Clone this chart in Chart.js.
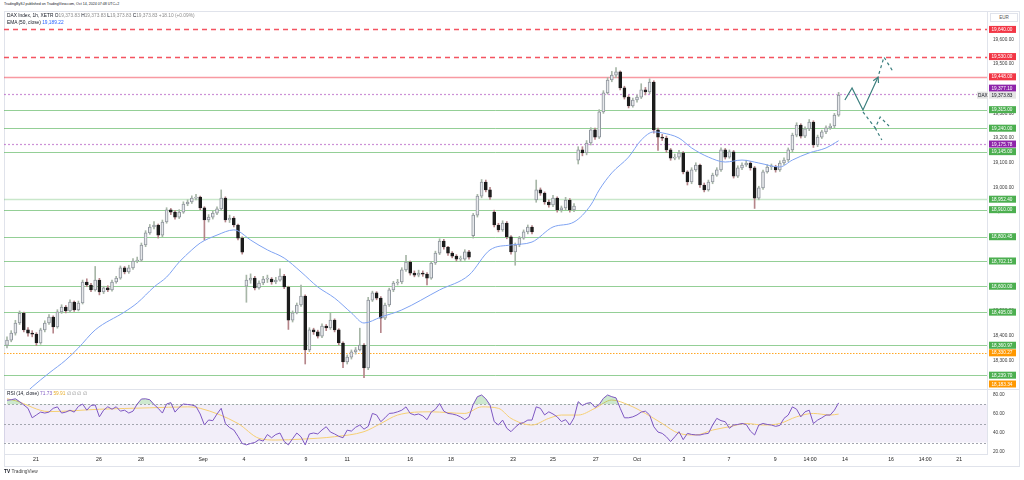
<!DOCTYPE html>
<html>
<head>
<meta charset="utf-8">
<title>DAX Index, 1h</title>
<script src="https://cdn.jsdelivr.net/npm/chart.js@4.4.1/dist/chart.umd.min.js"></script>
<style>
  body { margin: 0; background: #fff; font-family: "Liberation Sans", Arial, sans-serif; }
  #wrap { position: relative; width: 1024px; height: 480px; overflow: hidden; }
  .txt { position: absolute; white-space: nowrap; line-height: 1; color: #131722; }
  .line { position: absolute; background: #e0e3eb; }
  canvas { position: absolute; left: 0; }
  .g { color: #8d8d8d; }
</style>
</head>
<body>
<div id="wrap">
  <div class="txt" style="left:4px;top:3px;font-size:3.6px">TradingBySJ published on TradingView.com, Oct 14, 2024 07:48 UTC+2</div>

  <div class="line" style="left:4px;top:11px;width:1016px;height:1px"></div>
  <div class="line" style="left:4px;top:11px;width:1px;height:455px"></div>
  <div class="line" style="left:1019px;top:11px;width:1px;height:455px"></div>
  <div class="line" style="left:4px;top:389px;width:1016px;height:1px"></div>
  <div class="line" style="left:4px;top:466px;width:1016px;height:1px"></div>

  <canvas id="price" width="1024" height="378" style="top:11px"></canvas>
  <canvas id="rsi" width="1024" height="76" style="top:390px"></canvas>

  <div class="txt" style="left:7px;top:13.6px;font-size:4.8px">DAX Index, 1h, XETR <span>O</span><span class="g">19,373.83</span> <span>H</span><span class="g">19,373.83</span> <span>L</span><span class="g">19,373.83</span> <span>C</span><span class="g">19,373.83</span> <span class="g">+18.10 (+0.09%)</span></div>
  <div class="txt" style="left:7px;top:20.6px;font-size:4.8px">EMA (50, close) <span style="color:#2962ff">19,189.22</span></div>
  <div class="txt" style="left:990px;top:13px;width:28px;height:9px;border:1px solid #e0e3eb;box-sizing:border-box;background:#fff;font-size:4.6px;color:#555;text-align:center;padding-top:1.8px">EUR</div>

  <div class="txt" style="left:7px;top:391.6px;font-size:4.8px">RSI (14, close) <span style="color:#7e57c2">71.73</span> <span style="color:#e8ad2a">59.91</span> <span class="g">∅ ∅ ∅ ∅</span></div>

  <div class="txt" style="left:4px;top:469.6px;font-size:4.8px;color:#444"><b style="color:#131722">TV</b> TradingView</div>
</div>

<script>
// hourly candles, Aug 19 - Oct 14 2024
const opens = [
  18360, 18382, 18410, 18451, 18490, 18423, 18410, 18406, 18370, 18423,
  18451, 18475, 18435, 18496, 18516, 18500, 18536, 18504, 18532, 18617,
  18605, 18585, 18625, 18577, 18593, 18585, 18617, 18633, 18674, 18658,
  18674, 18702, 18706, 18767, 18816, 18840, 18848, 18807, 18860, 18909,
  18900, 18880, 18900, 18933, 18941, 18957, 18961, 18917, 18868, 18880,
  18896, 18913, 18957, 18868, 18876, 18848, 18795, 18600, 18625, 18633,
  18593, 18613, 18629, 18629, 18617, 18625, 18641, 18597, 18463, 18492,
  18524, 18560, 18342, 18423, 18415, 18398, 18439, 18431, 18463, 18423,
  18370, 18293, 18313, 18334, 18342, 18362, 18269, 18544, 18573, 18552,
  18471, 18524, 18585, 18613, 18617, 18666, 18698, 18653, 18645, 18653,
  18649, 18633, 18694, 18734, 18783, 18759, 18734, 18722, 18710, 18710,
  18739, 18805, 18888, 18965, 19022, 18990, 18900, 18848, 18828, 18856,
  18800, 18739, 18767, 18795, 18820, 18840, 18950, 18990, 18977, 18941,
  18929, 18957, 18909, 18917, 18949, 18909, 19110, 19152, 19140, 19180,
  19233, 19204, 19306, 19383, 19435, 19455, 19468, 19403, 19366, 19330,
  19354, 19366, 19395, 19387, 19427, 19233, 19204, 19200, 19152, 19119,
  19123, 19140, 19063, 19022, 19071, 19091, 19010, 18990, 19022, 19050,
  19071, 19152, 19123, 19144, 19046, 19079, 19091, 19099, 19079, 18957,
  18998, 19063, 19083, 19083, 19071, 19099, 19111, 19152, 19212, 19253,
  19208, 19237, 19265, 19172, 19204, 19225, 19241, 19249, 19293
];
const highs = [
  18395, 18420, 18462, 18500, 18495, 18432, 18420, 18412, 18430, 18460,
  18485, 18480, 18505, 18525, 18522, 18545, 18540, 18540, 18625, 18630,
  18612, 18680, 18632, 18600, 18602, 18625, 18640, 18682, 18680, 18685,
  18712, 18718, 18775, 18825, 18850, 18862, 18852, 18868, 18918, 18915,
  18906, 18910, 18942, 18950, 18966, 18972, 18965, 18922, 18890, 18905,
  18922, 18990, 18962, 18888, 18882, 18852, 18800, 18645, 18650, 18640,
  18622, 18640, 18645, 18635, 18636, 18670, 18648, 18600, 18500, 18532,
  18605, 18565, 18432, 18430, 18422, 18448, 18445, 18490, 18468, 18428,
  18375, 18322, 18342, 18352, 18430, 18368, 18555, 18580, 18578, 18558,
  18532, 18592, 18620, 18628, 18675, 18725, 18702, 18662, 18665, 18662,
  18655, 18700, 18742, 18792, 18790, 18762, 18740, 18728, 18722, 18748,
  18745, 18895, 18972, 19032, 19030, 19000, 18908, 18855, 18865, 18862,
  18805, 18775, 18802, 18828, 18848, 18846, 19030, 18998, 18982, 18950,
  18968, 18962, 18925, 18960, 18955, 18935, 19165, 19165, 19190, 19242,
  19240, 19315, 19392, 19445, 19470, 19485, 19472, 19410, 19372, 19362,
  19375, 19420, 19405, 19440, 19432, 19240, 19215, 19208, 19158, 19135,
  19150, 19145, 19068, 19080, 19100, 19095, 19018, 19030, 19058, 19080,
  19160, 19158, 19152, 19150, 19088, 19100, 19110, 19105, 19085, 19005,
  19070, 19092, 19095, 19090, 19108, 19120, 19160, 19220, 19262, 19258,
  19245, 19275, 19270, 19212, 19232, 19250, 19258, 19300, 19385
];
const lows = [
  18350, 18375, 18402, 18445, 18415, 18398, 18395, 18360, 18365, 18415,
  18445, 18410, 18430, 18490, 18492, 18495, 18498, 18500, 18528, 18598,
  18578, 18580, 18565, 18570, 18578, 18580, 18612, 18628, 18650, 18652,
  18668, 18695, 18700, 18760, 18810, 18832, 18795, 18800, 18855, 18890,
  18872, 18874, 18895, 18926, 18935, 18950, 18910, 18787, 18860, 18872,
  18890, 18908, 18860, 18858, 18840, 18788, 18730, 18535, 18612, 18585,
  18588, 18606, 18615, 18608, 18610, 18620, 18590, 18425, 18455, 18488,
  18518, 18285, 18335, 18405, 18390, 18392, 18420, 18425, 18415, 18362,
  18270, 18285, 18305, 18325, 18338, 18230, 18262, 18538, 18545, 18412,
  18465, 18518, 18578, 18605, 18610, 18660, 18645, 18638, 18638, 18640,
  18605, 18628, 18688, 18728, 18750, 18725, 18715, 18702, 18700, 18705,
  18710, 18795, 18880, 18958, 18982, 18952, 18840, 18820, 18822, 18792,
  18730, 18685, 18760, 18790, 18812, 18812, 18940, 18968, 18932, 18920,
  18922, 18900, 18900, 18910, 18900, 18902, 19095, 19128, 19132, 19172,
  19195, 19198, 19300, 19378, 19428, 19445, 19395, 19358, 19322, 19325,
  19345, 19360, 19375, 19380, 19220, 19150, 19190, 19142, 19110, 19112,
  19115, 19055, 19010, 19015, 19065, 19000, 18982, 18985, 19015, 19045,
  19065, 19115, 19118, 19038, 19040, 19072, 19085, 19070, 18915, 18950,
  18992, 19058, 19072, 19062, 19065, 19092, 19105, 19145, 19205, 19200,
  19202, 19230, 19162, 19165, 19198, 19218, 19235, 19242, 19288
];
const closes = [
  18382, 18410, 18451, 18490, 18423, 18410, 18406, 18370, 18423, 18451,
  18475, 18435, 18496, 18516, 18500, 18536, 18504, 18532, 18617, 18605,
  18585, 18625, 18577, 18593, 18585, 18617, 18633, 18674, 18658, 18674,
  18702, 18706, 18767, 18816, 18840, 18848, 18807, 18860, 18909, 18900,
  18880, 18900, 18933, 18941, 18957, 18961, 18917, 18868, 18880, 18896,
  18913, 18957, 18868, 18876, 18848, 18795, 18738, 18625, 18633, 18593,
  18613, 18629, 18629, 18617, 18625, 18641, 18597, 18463, 18492, 18524,
  18560, 18342, 18423, 18415, 18398, 18439, 18431, 18463, 18423, 18370,
  18293, 18313, 18334, 18342, 18362, 18269, 18544, 18573, 18552, 18471,
  18524, 18585, 18613, 18617, 18666, 18698, 18653, 18645, 18653, 18649,
  18633, 18694, 18734, 18783, 18759, 18734, 18722, 18710, 18710, 18739,
  18718, 18888, 18965, 19022, 18990, 18961, 18848, 18828, 18856, 18800,
  18739, 18767, 18795, 18820, 18840, 18820, 18990, 18977, 18941, 18929,
  18957, 18909, 18917, 18949, 18909, 18925, 19152, 19140, 19180, 19233,
  19204, 19306, 19383, 19435, 19455, 19468, 19403, 19366, 19330, 19354,
  19366, 19395, 19387, 19427, 19233, 19204, 19200, 19152, 19119, 19123,
  19140, 19063, 19022, 19071, 19091, 19010, 18990, 19022, 19050, 19071,
  19152, 19123, 19144, 19046, 19079, 19091, 19099, 19079, 18957, 18998,
  19063, 19083, 19083, 19071, 19099, 19111, 19152, 19212, 19253, 19208,
  19237, 19265, 19172, 19204, 19225, 19241, 19249, 19293, 19373.83
];
const lastPrice = 19373.83;

// EMA 50, read at a few bars
const emaIdx = [4, 6, 10, 14, 17, 21, 28, 31, 35, 38, 41, 44, 46, 50, 54, 55, 58, 62, 66, 70, 74, 78, 82, 85, 89, 94,
  103, 110, 115, 120, 125, 130, 135, 139, 141, 144, 148, 151, 154, 156, 160, 163, 167, 171, 175, 179, 184, 187, 191, 195, 198];
const emaVal = [18160, 18192, 18248, 18301, 18350, 18423, 18496, 18532, 18597, 18637, 18698, 18747, 18775, 18807, 18828, 18824,
  18787, 18747, 18714, 18658, 18597, 18552, 18492, 18451, 18475, 18504, 18585, 18645, 18747, 18767, 18779, 18840, 18860,
  18929, 18990, 19059, 19123, 19192, 19225, 19221, 19200, 19160, 19123, 19103, 19111, 19099, 19083, 19111, 19140, 19160, 19189.22];

// RSI 14 per bar and its MA
const rsi = [
  74.5, 75, 76, 73, 69.5, 66, 56, 59, 62, 61,
  62, 66, 67.5, 61, 62, 64, 62, 68, 70.5, 64,
  69, 69.5, 57, 64, 67.6, 65, 67.6, 63, 64, 61,
  63, 70.5, 75.8, 76, 75, 70, 66, 61, 70.5, 72,
  62, 67, 70.5, 70, 69.5, 68, 60, 48.5, 53.7, 53,
  60, 66, 50, 45.7, 43.2, 36.5, 29, 27.5, 29, 30,
  33, 31.5, 38.4, 35, 38.4, 40, 31, 27.5, 34, 40,
  36, 27.5, 39, 40, 39, 43.2, 46.6, 41, 39, 36.5,
  35, 43, 42, 46, 48.4, 44, 47, 60.6, 59, 51.9,
  56, 60.6, 61, 62.3, 64, 67.5, 60.6, 59, 60, 58,
  54, 62, 65, 71, 63, 60.6, 60, 58.9, 57, 54,
  57, 70, 78.2, 80, 76, 69.5, 52, 48.4, 53.6, 45,
  41.4, 46, 49.8, 51, 53.6, 53.6, 67.5, 66, 59, 62.3,
  60, 57, 52, 54, 48.4, 56, 73, 69, 71.2, 72,
  67, 70, 76.5, 80, 78.2, 77, 66, 56, 56, 57,
  59, 62, 63, 59, 46.6, 41, 39.6, 36, 31, 36,
  41.4, 33, 39.6, 38.5, 38, 37.9, 39, 39.6, 48.4, 55.4,
  53, 51.9, 45, 48.4, 49, 50, 49, 42, 37.9, 48.4,
  50, 49, 48.4, 47, 48, 55.4, 58.9, 67.5, 65, 57,
  62.3, 64, 50, 53.6, 56, 58.9, 58.9, 64, 71.73
];
const rsiMaIdx = [0, 2, 10, 22, 34, 43, 46, 55, 60, 64, 70, 78, 85, 89, 93, 101, 109, 113, 117, 120, 125, 129, 132, 136,
  140, 144, 148, 152, 156, 160, 164, 168, 172, 176, 180, 184, 188, 192, 196, 198];
const rsiMaVal = [76, 74, 62.5, 65, 66.5, 67.5, 66, 50, 34.4, 32.6, 33.5, 36.1, 41.4, 50, 58.9, 62.3, 60.6, 67.5, 66, 55.4,
  48.4, 55.4, 58.9, 58.9, 66, 74.7, 69.5, 60.6, 50, 39.6, 37.9, 43.1, 46.6, 50, 48.4, 50, 57.1, 60.6, 58.9, 59.91];

// horizontal levels
const levelPrices = [19640, 19530, 19448, 19377.10, 19315, 19240, 19175.78, 19145, 18952.40, 18910,
  18800.45, 18702.15, 18600, 18495, 18360.97, 18330.27, 18239.70, 18183.34];
const levelKind = ['redDash', 'redDash', 'red', 'purple', 'green', 'green', 'purple', 'green', 'greenLight', 'green',
  'green', 'green', 'green', 'green', 'green', 'orange', 'green', 'orange'];

// time axis
const tickIdx = [6.9, 21.9, 31.9, 46.7, 56.4, 71.2, 81.0, 96.0, 105.7, 120.5, 130.0, 140.2, 150.0, 161.2, 171.9,
  182.9, 191.2, 199.5, 210.5, 218.6, 226.7];
const tickNames = ['21', '26', '28', 'Sep', '4', '9', '11', '16', '18', '23', '25', '27', 'Oct', '3', '7', '9',
  '14:00', '14', '16', '14:00', '21'];
const priceTicks = [18200, 18300, 18400, 18500, 18600, 18700, 18800, 18900, 19000, 19100, 19200, 19300, 19400,
  19500, 19600];
const rsiTicks = [20, 40, 60, 80];

// projection drawing (bar index, price)
const projSolidIdx = [199.5, 201.2, 203.8, 207.4];
const projSolidPx = [19354, 19403, 19314, 19447];
const projUpIdx = [207.6, 208.8, 211.0];
const projUpPx = [19460, 19528, 19468];
const projDownIdx = [203.8, 206.7, 207.9, 210.0];
const projDownPx = [19306, 19241, 19285, 19249];
const projDown2Idx = [206.7, 208.3];
const projDown2Px = [19241, 19192];

const levelStyle = {
  redDash: { line: 'rgba(242,54,69,0.85)', width: 1.4, dash: [5, 4], box: '#f23645' },
  red: { line: 'rgba(242,54,69,0.5)', width: 1.5, dash: [], box: '#f23645' },
  purple: { line: 'rgba(171,71,188,0.6)', width: 1.2, dash: [2, 2], box: '#8e24aa' },
  green: { line: 'rgba(76,175,80,0.6)', width: 1, dash: [], box: '#4caf50' },
  greenLight: { line: 'rgba(76,175,80,0.3)', width: 1.5, dash: [], box: '#4caf50' },
  orange: { line: '#ffa726', width: 1.2, dash: [1.5, 1.5], box: '#ff9800' }
};

const fmt = v => v.toLocaleString('en-US', { minimumFractionDigits: 2, maximumFractionDigits: 2 });
const xMin = -0.714, xMax = 233.33;
const axisFont = { family: '"Liberation Sans", Arial, sans-serif', size: 4.7 };

function priceBox(ctx, x, y, text, bg, fg, w) {
  ctx.fillStyle = bg;
  ctx.fillRect(x, y - 3.5, w, 7);
  ctx.fillStyle = fg;
  ctx.font = '4.7px "Liberation Sans", Arial, sans-serif';
  ctx.textAlign = 'left';
  ctx.textBaseline = 'middle';
  ctx.fillText(text, x + 2.5, y + 0.3);
}

const levelsPlugin = {
  id: 'levels',
  beforeDatasetsDraw(chart) {
    const { ctx, chartArea: a, scales: { y } } = chart;
    ctx.save();
    levelPrices.forEach((p, k) => {
      const st = levelStyle[levelKind[k]];
      const py = Math.round(y.getPixelForValue(p)) + 0.5;
      if (py < a.top || py > a.bottom) return;
      ctx.strokeStyle = st.line;
      ctx.lineWidth = st.width;
      ctx.setLineDash(st.dash);
      ctx.beginPath();
      ctx.moveTo(a.left, py);
      ctx.lineTo(a.right, py);
      ctx.stroke();
    });
    ctx.restore();
  },
  afterDraw(chart) {
    const { ctx, chartArea: a, scales: { y } } = chart;
    const lastY = y.getPixelForValue(lastPrice);
    ctx.save();
    levelPrices.forEach((p, k) => {
      const st = levelStyle[levelKind[k]];
      let ly = y.getPixelForValue(p);
      if (Math.abs(ly - lastY) < 7) ly = lastY - 7;
      ly = Math.min(Math.max(ly, a.top + 4), a.bottom - 5);
      priceBox(ctx, a.right + 2, ly, fmt(p), st.box, '#ffffff', 27);
    });
    priceBox(ctx, a.right + 2, lastY, fmt(lastPrice), '#e4e4e4', '#131722', 27);
    ctx.fillStyle = '#e4e4e4';
    ctx.fillRect(a.right - 10, lastY - 3.5, 11, 7);
    ctx.fillStyle = '#131722';
    ctx.fillText('DAX', a.right - 9, lastY + 0.3);
    ctx.restore();
  }
};

const projPlugin = {
  id: 'proj',
  afterDatasetsDraw(chart) {
    const { ctx, scales: { x, y } } = chart;
    const path = (idx, px, dash) => {
      ctx.setLineDash(dash);
      ctx.beginPath();
      idx.forEach((v, k) => {
        const X = x.getPixelForValue(v), Y = y.getPixelForValue(px[k]);
        if (k) ctx.lineTo(X, Y); else ctx.moveTo(X, Y);
      });
      ctx.stroke();
    };
    ctx.save();
    ctx.strokeStyle = '#3a7e7d';
    ctx.lineWidth = 1.2;
    path(projSolidIdx, projSolidPx, []);
    path(projUpIdx, projUpPx, [3, 3]);
    path(projDownIdx, projDownPx, [3, 3]);
    path(projDown2Idx, projDown2Px, [3, 3]);
    const n = projSolidIdx.length;
    const tx = x.getPixelForValue(projSolidIdx[n - 1]), ty = y.getPixelForValue(projSolidPx[n - 1]);
    const fx = x.getPixelForValue(projSolidIdx[n - 2]), fy = y.getPixelForValue(projSolidPx[n - 2]);
    const ang = Math.atan2(ty - fy, tx - fx);
    ctx.setLineDash([]);
    ctx.beginPath();
    ctx.moveTo(tx - 6 * Math.cos(ang - 0.5), ty - 6 * Math.sin(ang - 0.5));
    ctx.lineTo(tx, ty);
    ctx.lineTo(tx - 6 * Math.cos(ang + 0.5), ty - 6 * Math.sin(ang + 0.5));
    ctx.stroke();
    ctx.restore();
  }
};

const isUp = closes.map((c, i) => c >= opens[i]);

new Chart(document.getElementById('price'), {
  type: 'bar',
  data: {
    datasets: [
      {
        data: closes.map((c, i) => ({ x: i, y: [lows[i], highs[i]] })),
        backgroundColor: isUp.map(u => u ? '#a7b6a7' : '#b5858a'),
        barThickness: 1, grouped: false, order: 3
      },
      {
        data: closes.map((c, i) => ({ x: i, y: [opens[i], c] })),
        backgroundColor: isUp.map(u => u ? '#e6e8eb' : '#1c1c1c'),
        borderColor: isUp.map(u => u ? '#8f959d' : '#1c1c1c'),
        borderWidth: 1, borderSkipped: false, barThickness: 3, minBarLength: 1,
        grouped: false, order: 2
      },
      {
        type: 'line',
        data: emaIdx.map((v, k) => ({ x: v, y: emaVal[k] })),
        borderColor: '#7fa3f2', borderWidth: 1, pointRadius: 0,
        cubicInterpolationMode: 'monotone', order: 1
      }
    ]
  },
  options: {
    responsive: false, animation: false, devicePixelRatio: 1,
    layout: { padding: { left: 4, right: 0, top: 0, bottom: 0 }, autoPadding: false },
    plugins: { legend: { display: false }, tooltip: { enabled: false } },
    scales: {
      x: { type: 'linear', min: xMin, max: xMax, offset: false, display: false },
      y: {
        position: 'right', min: 18183.75, max: 19714.6, beginAtZero: false,
        afterBuildTicks: s => { s.ticks = priceTicks.map(v => ({ value: v })); },
        afterFit: s => { s.width = 37; s.paddingTop = 0; s.paddingBottom = 0; },
        grid: { display: false, drawTicks: false },
        border: { display: true, color: '#e0e3eb' },
        ticks: { padding: 6, font: axisFont, color: '#3b3b3b', callback: v => fmt(v) }
      }
    }
  },
  plugins: [levelsPlugin, projPlugin]
});

const rsiBand = {
  id: 'rsiBand',
  beforeDatasetsDraw(chart) {
    const { ctx, chartArea: a, scales: { y } } = chart;
    const y70 = y.getPixelForValue(70), y50 = y.getPixelForValue(50), y30 = y.getPixelForValue(30);
    ctx.save();
    ctx.fillStyle = 'rgba(126,87,194,0.1)';
    ctx.fillRect(a.left, y70, a.right - a.left, y30 - y70);
    ctx.strokeStyle = '#a3a6af';
    ctx.lineWidth = 1;
    ctx.setLineDash([2, 2]);
    [y70, y50, y30].forEach(py => {
      ctx.beginPath();
      ctx.moveTo(a.left, Math.round(py) + 0.5);
      ctx.lineTo(a.right, Math.round(py) + 0.5);
      ctx.stroke();
    });
    ctx.restore();
  }
};

new Chart(document.getElementById('rsi'), {
  type: 'line',
  data: {
    datasets: [
      {
        data: rsi.map((v, i) => ({ x: i, y: v })),
        borderColor: '#7e57c2', borderWidth: 1, pointRadius: 0, tension: 0,
        fill: { target: { value: 70 }, above: 'rgba(76,175,80,0.28)', below: 'rgba(0,0,0,0)' }
      },
      {
        data: rsiMaIdx.map((v, k) => ({ x: v, y: rsiMaVal[k] })),
        borderColor: '#f6cf72', borderWidth: 1, pointRadius: 0,
        cubicInterpolationMode: 'monotone'
      }
    ]
  },
  options: {
    responsive: false, animation: false, devicePixelRatio: 1,
    layout: { padding: { left: 4, right: 0, top: 0, bottom: 0 }, autoPadding: false },
    plugins: { legend: { display: false }, tooltip: { enabled: false } },
    scales: {
      x: {
        type: 'linear', min: xMin, max: xMax, offset: false,
        afterBuildTicks: s => { s.ticks = tickIdx.map(v => ({ value: v })); },
        afterFit: s => { s.height = 12; s.paddingLeft = 0; s.paddingRight = 0; },
        grid: { display: false, drawTicks: false },
        border: { display: true, color: '#e0e3eb' },
        ticks: {
          autoSkip: false, maxRotation: 0, padding: 2.5, color: '#222',
          font: { family: axisFont.family, size: 5.2 },
          callback: (v, i) => tickNames[i]
        }
      },
      y: {
        position: 'right', min: 17.9, max: 85.26,
        afterBuildTicks: s => { s.ticks = rsiTicks.map(v => ({ value: v })); },
        afterFit: s => { s.width = 37; s.paddingTop = 0; s.paddingBottom = 0; },
        grid: { display: false, drawTicks: false },
        border: { display: true, color: '#e0e3eb' },
        ticks: { padding: 6, font: axisFont, color: '#3b3b3b', callback: v => fmt(v) }
      }
    }
  },
  plugins: [rsiBand]
});
</script>
</body>
</html>
